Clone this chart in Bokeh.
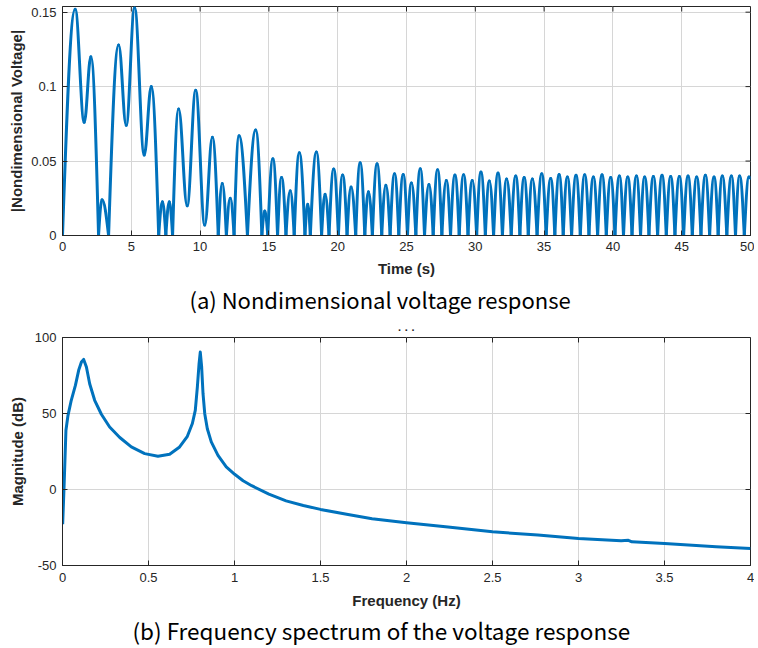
import numpy as np
from bokeh.plotting import figure
from bokeh.models import ColumnDataSource, FixedTicker, Range1d, Title
from bokeh.layouts import column
from bokeh.embed import file_html
from bokeh.resources import INLINE

# ---------------- data ----------------
# (a) |nondimensional voltage| : extrema (peaks, troughs, zeros) of the response
time_s = [
    0.00, 0.92, 1.58, 2.06, 2.62, 2.87, 3.35, 4.08, 4.63, 5.24, 5.94, 6.45,
    6.99, 7.26, 7.51, 7.76, 8.00, 8.44, 9.06, 9.68, 10.34, 10.89, 11.32, 11.61,
    11.91, 12.19, 12.47, 12.83, 13.44, 14.04, 14.49, 14.70, 14.92, 15.29, 15.63,
    15.92, 16.24, 16.55, 16.84, 17.21, 17.62, 17.82, 18.01, 18.45, 18.83, 19.08,
    19.37, 19.71, 20.05, 20.36, 20.68, 20.97, 21.31, 21.63, 21.97, 22.23, 22.52,
    22.86, 23.20, 23.50, 23.81, 24.13, 24.44, 24.76, 25.07, 25.36, 25.68, 26.00,
    26.31, 26.63, 26.94, 27.26, 27.57, 27.89, 28.20, 28.52, 28.83, 29.15, 29.47,
    29.78, 30.10, 30.41, 30.73, 31.02, 31.33, 31.65, 31.97, 32.28, 32.61, 32.94,
    33.24, 33.55, 33.85, 34.15, 34.49, 34.83, 35.15, 35.48, 35.78, 36.09, 36.39,
    36.69, 37.00, 37.32, 37.63, 37.95, 38.26, 38.58, 38.89, 39.21, 39.52, 39.84,
    40.15, 40.47, 40.77, 41.08, 41.39, 41.71, 42.01, 42.31, 42.62, 42.94, 43.25,
    43.57, 43.88, 44.20, 44.51, 44.83, 45.14, 45.46, 45.77, 46.09, 46.40, 46.72,
    47.03, 47.35, 47.65, 47.95, 48.28, 48.61, 48.91, 49.21, 49.55, 49.89, 50.00,
]
volt = [
    0.0, 0.152, 0.076, 0.120, 0.0, 0.024, 0.0, 0.128, 0.074, 0.153, 0.054, 0.100,
    0.0, 0.0226, 0.0, 0.0226, 0.0, 0.085, 0.020, 0.0975, 0.007, 0.066, 0.0, 0.035,
    0.0, 0.025, 0.0, 0.067, 0.0, 0.0708, 0.0, 0.0165, 0.0, 0.0515, 0.0,
    0.039, 0.0, 0.030, 0.0, 0.0555, 0.0, 0.021, 0.0, 0.056, 0.0, 0.0277,
    0.0, 0.0446, 0.0, 0.0406, 0.0, 0.0326, 0.0, 0.0489, 0.0, 0.0293, 0.0,
    0.0482, 0.0, 0.0337, 0.0, 0.0415, 0.0, 0.041, 0.0, 0.0353, 0.0, 0.0449,
    0.0, 0.0342, 0.0, 0.0442, 0.0, 0.037, 0.0, 0.0406, 0.0, 0.0408, 0.0,
    0.037, 0.0, 0.0426, 0.0, 0.0366, 0.0, 0.042, 0.0, 0.038, 0.0, 0.040,
    0.0, 0.0389, 0.0, 0.038, 0.0, 0.0415, 0.0, 0.0382, 0.0, 0.041, 0.0,
    0.0393, 0.0, 0.0404, 0.0, 0.0408, 0.0, 0.0393, 0.0, 0.0408, 0.0, 0.0389,
    0.0, 0.040, 0.0, 0.0393, 0.0, 0.040, 0.0, 0.0393, 0.0, 0.0397, 0.0,
    0.0404, 0.0, 0.0397, 0.0, 0.0397, 0.0, 0.040, 0.0, 0.0393, 0.0, 0.0404,
    0.0, 0.0393, 0.0, 0.040, 0.0, 0.040, 0.0, 0.040, 0.0, 0.0393, 0.0385,
]

# (b) frequency spectrum
freq_hz = [
    0.001, 0.009, 0.020, 0.032, 0.051, 0.075, 0.094, 0.110, 0.123, 0.139, 0.158,
    0.187, 0.226, 0.274, 0.333, 0.400, 0.478, 0.555, 0.623, 0.681, 0.726, 0.755,
    0.772, 0.784, 0.794, 0.801, 0.809, 0.817, 0.827, 0.842, 0.865, 0.904, 0.952,
    1.001, 1.050, 1.100, 1.200, 1.300, 1.400, 1.500, 1.660, 1.800, 2.000, 2.241,
    2.500, 2.764, 3.000, 3.248, 3.290, 3.310, 3.500, 3.800, 4.000,
]
mag_db = [
    -22.8, 1.7, 39.0, 48.8, 58.7, 68.5, 78.4, 83.9, 85.6, 80.6, 69.6,
    58.7, 49.5, 41.1, 34.2, 28.0, 23.6, 21.9, 23.2, 28.0, 35.0, 43.4,
    52.1, 67.4, 82.8, 90.4, 80.6, 63.0, 49.9, 40.0, 31.3, 22.5, 14.9,
    10.0, 5.8, 2.5, -3.0, -7.5, -10.5, -13.1, -16.5, -19.2, -21.9, -24.6,
    -27.8, -30.0, -32.2, -33.7, -33.4, -34.4, -35.5, -37.7, -38.8,
]

x1_ticks = [0, 5, 10, 15, 20, 25, 30, 35, 40, 45, 50]
y1_ticks = [0, 0.05, 0.1, 0.15]
y1_labels = ["0", "0.05", "0.1", "0.15"]
x2_ticks = [0, 0.5, 1, 1.5, 2, 2.5, 3, 3.5, 4]
x2_labels = ["0", "0.5", "1", "1.5", "2", "2.5", "3", "3.5", "4"]
y2_ticks = [-50, 0, 50, 100]
y2_labels = ["-50", "0", "50", "100"]

x1_title = "Time (s)"
y1_title = "|Nondimensional Voltage|"
x2_title = "Frequency (Hz)"
y2_title = "Magnitude (dB)"
caption_a = "(a) Nondimensional voltage response"
caption_b = "(b) Frequency spectrum of the voltage response"
dots = "· · ·"

# ---------------- styling ----------------
BLUE = "#0072BD"
DARK = "#262626"
GRID = "#d6d6d6"
TICK_FONT = "Liberation Sans"
CAP_FONT = "Noto Sans CJK KR"


def style_axis(ax, tick_standoff, label_standoff):
    ax.major_tick_in = 5
    ax.major_tick_out = 0
    ax.minor_tick_line_color = None
    ax.axis_line_color = DARK
    ax.major_tick_line_color = DARK
    ax.major_label_text_font = TICK_FONT
    ax.major_label_text_color = DARK
    ax.major_label_text_font_size = "13px"
    ax.major_label_standoff = tick_standoff
    ax.axis_label_text_font = TICK_FONT
    ax.axis_label_text_font_style = "bold"
    ax.axis_label_text_font_size = "15px"
    ax.axis_label_text_color = DARK
    ax.axis_label_standoff = label_standoff


def make_fig(xr, yr, xt, yt, xlab, ylab, x_over, y_over, frame_h, top,
             title_text, tick_sx, lab_sx, lab_sy):
    p = figure(frame_width=688, frame_height=frame_h,
               x_range=Range1d(*xr), y_range=Range1d(*yr),
               output_backend="svg", toolbar_location=None,
               min_border_left=62, min_border_right=4,
               min_border_top=top, min_border_bottom=0,
               title=title_text)
    if title_text:
        p.title.text_font = TICK_FONT
        p.title.text_font_size = "11px"
        p.title.text_font_style = "bold"
        p.title.align = "center"
        p.title.text_color = DARK
        p.title.standoff = 4
    p.background_fill_color = "white"
    p.border_fill_color = "white"
    p.outline_line_color = DARK
    p.outline_line_width = 1

    p.xaxis.ticker = FixedTicker(ticks=xt)
    p.yaxis.ticker = FixedTicker(ticks=yt)
    if x_over:
        p.xaxis.major_label_overrides = x_over
    if y_over:
        p.yaxis.major_label_overrides = y_over
    p.xaxis.axis_label = xlab
    p.yaxis.axis_label = ylab
    for ax in p.xaxis:
        style_axis(ax, tick_sx, lab_sx)
    for ax in p.yaxis:
        style_axis(ax, 6, lab_sy)

    p.xgrid.ticker = FixedTicker(ticks=xt)
    p.ygrid.ticker = FixedTicker(ticks=yt)
    p.grid.grid_line_color = GRID
    p.grid.grid_line_width = 1

    # inward tick marks on the top and right edges of the box
    p.ray(x=xt, y=[yr[1]] * len(xt), length=5, length_units="screen",
          angle=-np.pi / 2, line_color=DARK, line_width=1)
    p.ray(x=[xr[1]] * len(yt), y=yt, length=5, length_units="screen",
          angle=np.pi, line_color=DARK, line_width=1)
    return p


# ---------------- (a) time response ----------------
p1 = make_fig((0, 50), (0, 0.1538), x1_ticks, y1_ticks, x1_title, y1_title,
              None, dict(zip(y1_ticks, y1_labels)), 229, 6, None, 6, 6, 3)

t = np.array(time_s)
v = np.array(volt)
t0, t1 = t[:-1], t[1:]
v0, v1 = v[:-1], v[1:]
dt = t1 - t0
z0 = v0 == 0
z1 = v1 == 0
seg = ColumnDataSource(dict(
    x0=t0, y0=v0, x1=t1, y1=v1,
    cx0=t0 + np.where(z0, 0.33, 0.38) * dt,
    cy0=v0 + np.where(z0, 0.52 * (v1 - v0), 0.0),
    cx1=t1 - np.where(z1, 0.33, 0.38) * dt,
    cy1=v1 + np.where(z1, 0.52 * (v0 - v1), 0.0),
))
p1.bezier(x0="x0", y0="y0", x1="x1", y1="y1", cx0="cx0", cy0="cy0",
          cx1="cx1", cy1="cy1", source=seg, line_color=BLUE, line_width=3,
          line_cap="round", line_join="round")

# captions are centred on the whole page, not on the plot box
cap1 = Title(text=caption_a, align="left", offset=127, text_font=CAP_FONT,
             text_font_size="22px", text_font_style="normal", text_color="black",
             standoff=3)
p1.add_layout(cap1, "below")

# ---------------- (b) spectrum ----------------
p2 = make_fig((0, 4), (-50, 100), x2_ticks, y2_ticks, x2_title, y2_title,
              dict(zip(x2_ticks, x2_labels)), dict(zip(y2_ticks, y2_labels)),
              228, 21, dots, 7, 7, 6)
p2.line(freq_hz, mag_db, line_color=BLUE, line_width=3, line_join="round")

cap2 = Title(text=caption_b, align="left", offset=70, text_font=CAP_FONT,
             text_font_size="22.5px", text_font_style="normal", text_color="black",
             standoff=1)
p2.add_layout(cap2, "below")

layout = column(p1, p2, spacing=0)
open("out.html", "w").write(file_html(layout, INLINE))
